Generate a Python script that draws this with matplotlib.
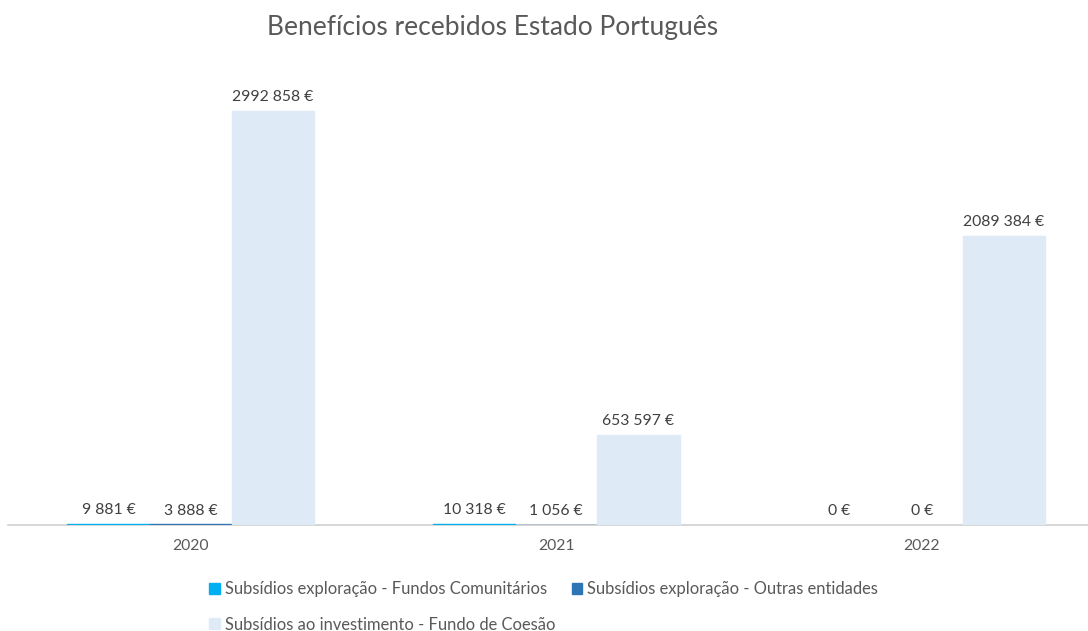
import matplotlib.pyplot as plt
import numpy as np

plt.rcParams['font.family'] = ['Lato', 'DejaVu Sans']

years = ['2020', '2021', '2022']
series_names = ['Subsídios exploração - Fundos Comunitários',
                'Subsídios exploração - Outras entidades',
                'Subsídios ao investimento - Fundo de Coesão']
fundos_comunitarios = [9881, 10318, 0]
outras_entidades = [3888, 1056, 0]
fundo_coesao = [2992858, 653597, 2089384]
colors = ['#00B0F0', '#2E75B6', '#DEEAF6']


def fmt(v):
    # Excel style "### ##0 €": only the last thousands group is separated
    if v >= 1000:
        return f'{v // 1000} {v % 1000:03d} €'
    return f'{v} €'


fig = plt.figure(figsize=(10.88, 6.31), dpi=100)
ax = fig.add_axes([8/1088, (631-525)/631, (1088-8)/1088, (525-41)/631])

x = np.arange(len(years))
w = 0.225
handles = []
for i, vals in enumerate([fundos_comunitarios, outras_entidades, fundo_coesao]):
    pos = x + (i - 1) * w
    lws = [1.0 if v > 0 else 0 for v in vals]
    b = ax.bar(pos, vals, w, color=colors[i], edgecolor=colors[i],
               linewidth=lws, label=series_names[i], zorder=3)
    handles.append(b)
    for p, v in zip(pos, vals):
        ax.annotate(fmt(v), (p, v), xytext=(0, 5), textcoords='offset points',
                    ha='center', va='bottom', fontsize=11.3, color='#404040')

ax.set_xlim(-0.5, 2.455)
ax.set_ylim(0, 3500000)
ax.set_xticks(x)
ax.set_xticklabels(years, fontsize=11.3, color='#595959')
ax.tick_params(axis='x', length=0, pad=10)
ax.set_yticks([])
for s in ['top', 'right', 'left']:
    ax.spines[s].set_visible(False)
ax.spines['bottom'].set_color('#D0D0D0')
ax.spines['bottom'].set_linewidth(1.2)
ax.spines['bottom'].set_zorder(1)

fig.text(493/1088, 1 - 28/631, 'Benefícios recebidos Estado Português',
         ha='center', va='center', fontsize=19, color='#595959')

leg = fig.legend([handles[0], handles[2], handles[1]],
                 [series_names[0], series_names[2], series_names[1]],
                 ncol=2, loc='center left', bbox_to_anchor=(194/1088, 1 - 607/631),
                 frameon=False, fontsize=11.9, handlelength=0.65, handleheight=0.65,
                 handletextpad=0.3, columnspacing=1.0, labelspacing=1.15,
                 labelcolor='#595959')

fig.savefig('out.png', dpi=100)
